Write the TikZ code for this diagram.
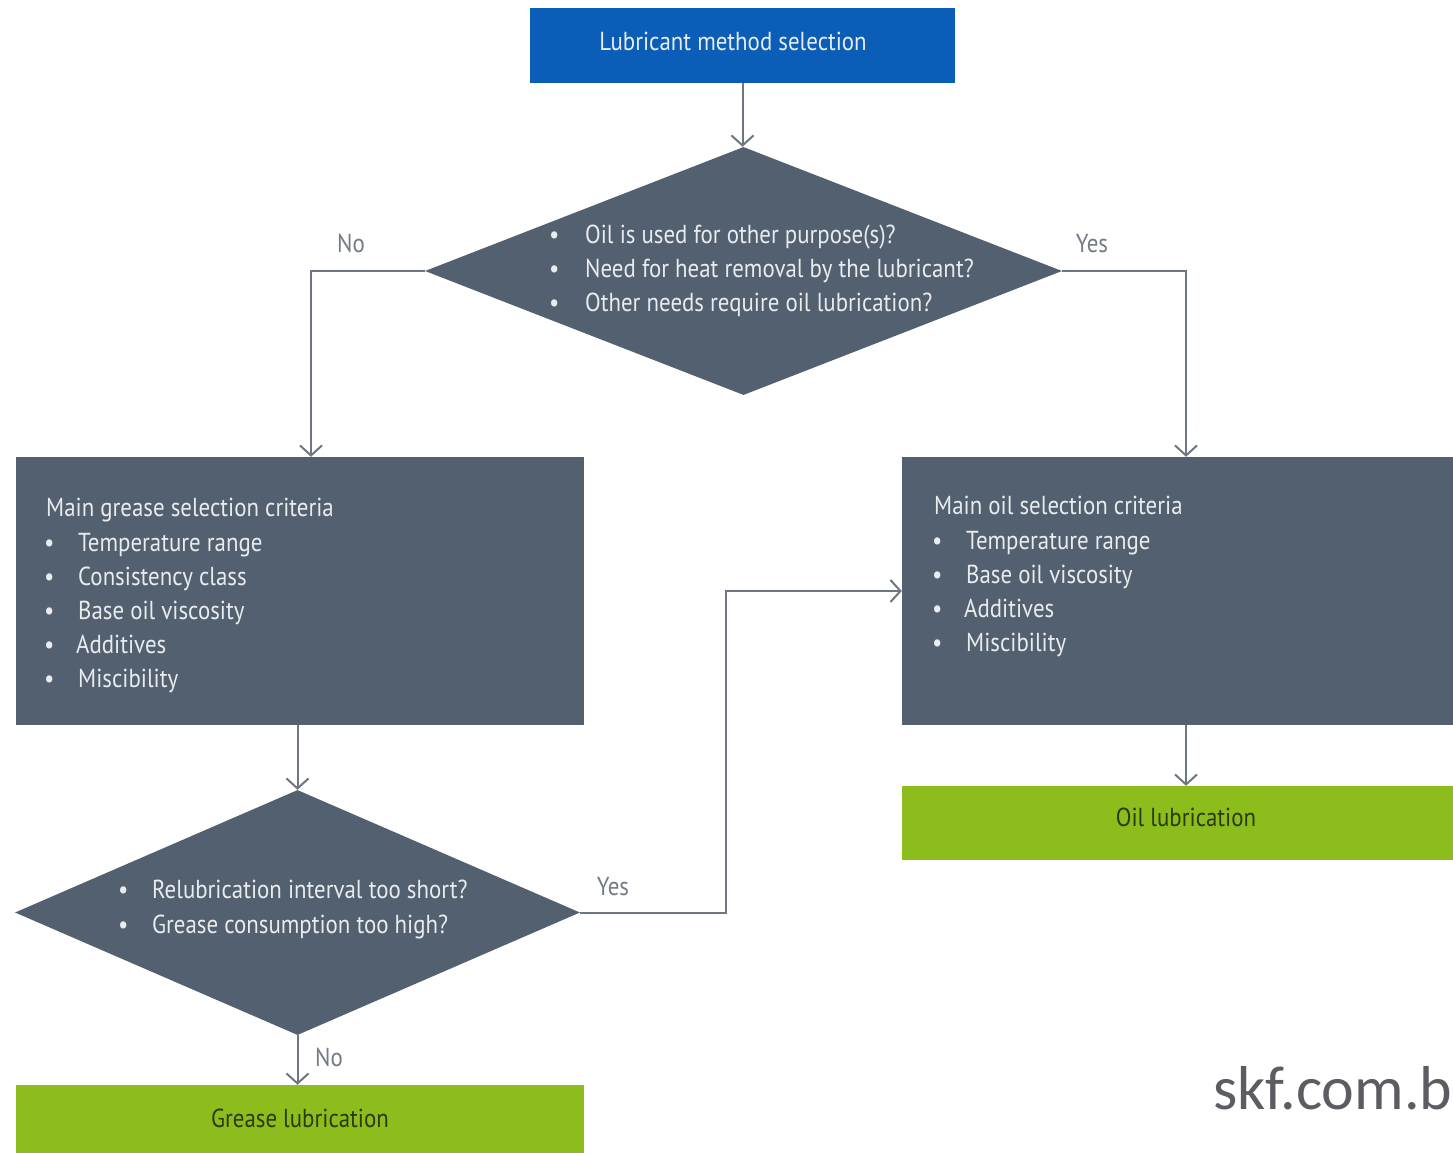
\documentclass[tikz,border=0pt]{standalone}
\usepackage{fontspec}
\setmainfont{PT Sans}[FakeStretch=0.88]
\newfontfamily\skffont{Carlito}
\usetikzlibrary{shapes.geometric,arrows.meta}
\definecolor{skfblue}{HTML}{0B5EB8}
\definecolor{slate}{HTML}{536070}
\definecolor{lime}{HTML}{8CBD1C}
\definecolor{conn}{HTML}{6E7781}
\definecolor{lighttxt}{HTML}{E8ECEF}
\definecolor{darktxt}{HTML}{2B3A0F}
\definecolor{lbl}{HTML}{737B84}
\definecolor{urlgray}{HTML}{5C5C62}
\newcommand{\blt}[1]{\makebox[#1][l]{\textbullet}}
\tikzset{
  box/.style={draw=none, inner sep=0pt, rectangle},
  dia/.style={draw=none, fill=slate, shape=diamond, inner sep=0pt},
  arr/.style={draw=conn, line width=2pt, -{Straight Barb[length=10pt,width=22pt,line width=2pt]}},
  line/.style={inner sep=0pt, anchor=base west, font=\fontsize{26}{30}\selectfont, text=lighttxt},
  ctxt/.style={inner sep=0pt, anchor=base, font=\fontsize{26}{30}\selectfont},
  lab/.style={inner sep=0pt, anchor=base, font=\fontsize{26}{30}\selectfont, text=lbl}
}
\begin{document}
\begin{tikzpicture}[x=1pt,y=-1pt]
\clip (0,0) rectangle (1453,1153);
\fill[white] (0,0) rectangle (1453,1153);
% shapes
\node[box, fill=skfblue, minimum width=425pt, minimum height=75pt] (top) at (742.5,45.5) {};
\node[dia, minimum width=637pt, minimum height=248pt] (d1) at (743.5,271) {};
\node[box, fill=slate, minimum width=568pt, minimum height=268pt] (grease) at (300,591) {};
\node[box, fill=slate, minimum width=568pt, minimum height=268pt] (oil) at (1186,591) {};
\node[dia, minimum width=565pt, minimum height=245pt] (d2) at (297.5,912.5) {};
\node[box, fill=lime, minimum width=568pt, minimum height=74pt] (greasel) at (300,1122) {};
\node[box, fill=lime, minimum width=568pt, minimum height=74pt] (oill) at (1186,823) {};
% texts
\node[ctxt, text=lighttxt] (toptxt) at (733,51) {Lubricant method selection};
\node[line] (d1a) at (549,243) {\blt{36pt}Oil is used for other purpose(s)?};
\node[line] (d1b) at (549,277) {\blt{36pt}Need for heat removal by the lubricant?};
\node[line] (d1c) at (549,311) {\blt{36pt}Other needs require oil lubrication?};
\node[line] (g0) at (46,516) {Main grease selection criteria};
\node[line] (g1) at (44,551) {\blt{34pt}Temperature range};
\node[line] (g2) at (44,585) {\blt{34pt}Consistency class};
\node[line] (g3) at (44,619) {\blt{34pt}Base oil viscosity};
\node[line] (g4) at (44,653) {\blt{32pt}Additives};
\node[line] (g5) at (44,687) {\blt{34pt}Miscibility};
\node[line] (o0) at (934,514) {Main oil selection criteria};
\node[line] (o1) at (932,549) {\blt{34pt}Temperature range};
\node[line] (o2) at (932,583) {\blt{34pt}Base oil viscosity};
\node[line] (o3) at (932,617) {\blt{32pt}Additives};
\node[line] (o4) at (932,651) {\blt{34pt}Miscibility};
\node[line] (d2a) at (118,898) {\blt{34pt}Relubrication interval too short?};
\node[line] (d2b) at (118,933) {\blt{34pt}Grease consumption too high?};
\node[ctxt, text=darktxt] (oiltxt) at (1186,826) {Oil lubrication};
\node[ctxt, text=darktxt] (greasetxt) at (300,1127) {Grease lubrication};
\node[lab] (no1) at (351,252) {No};
\node[lab] (yes1) at (1092,252) {Yes};
\node[lab] (yes2) at (613,895) {Yes};
\node[lab] (no2) at (329,1066) {No};
\node[inner sep=0pt, anchor=base west, font=\skffont\fontsize{62}{64}\selectfont, text=urlgray] (url) at (1213,1109) {skf.com.b};
% connectors
\coordinate (gin) at ([xshift=11pt]grease.north);
\coordinate (bend) at (726,910);
\draw[arr] (top.south) -- (top.south |- d1.north);
\draw[arr] (d1.west) -| (gin);
\draw[arr] (d1.east) -| (oil.north);
\draw[arr] (grease.south -| d2.north) -- (d2.north);
\draw[arr] (d2.east) -| (bend) |- (oil.west);
\draw[arr] (d2.south) -- (d2.south |- greasel.north);
\draw[arr] (oil.south) -- (oill.north);
\end{tikzpicture}
\end{document}
